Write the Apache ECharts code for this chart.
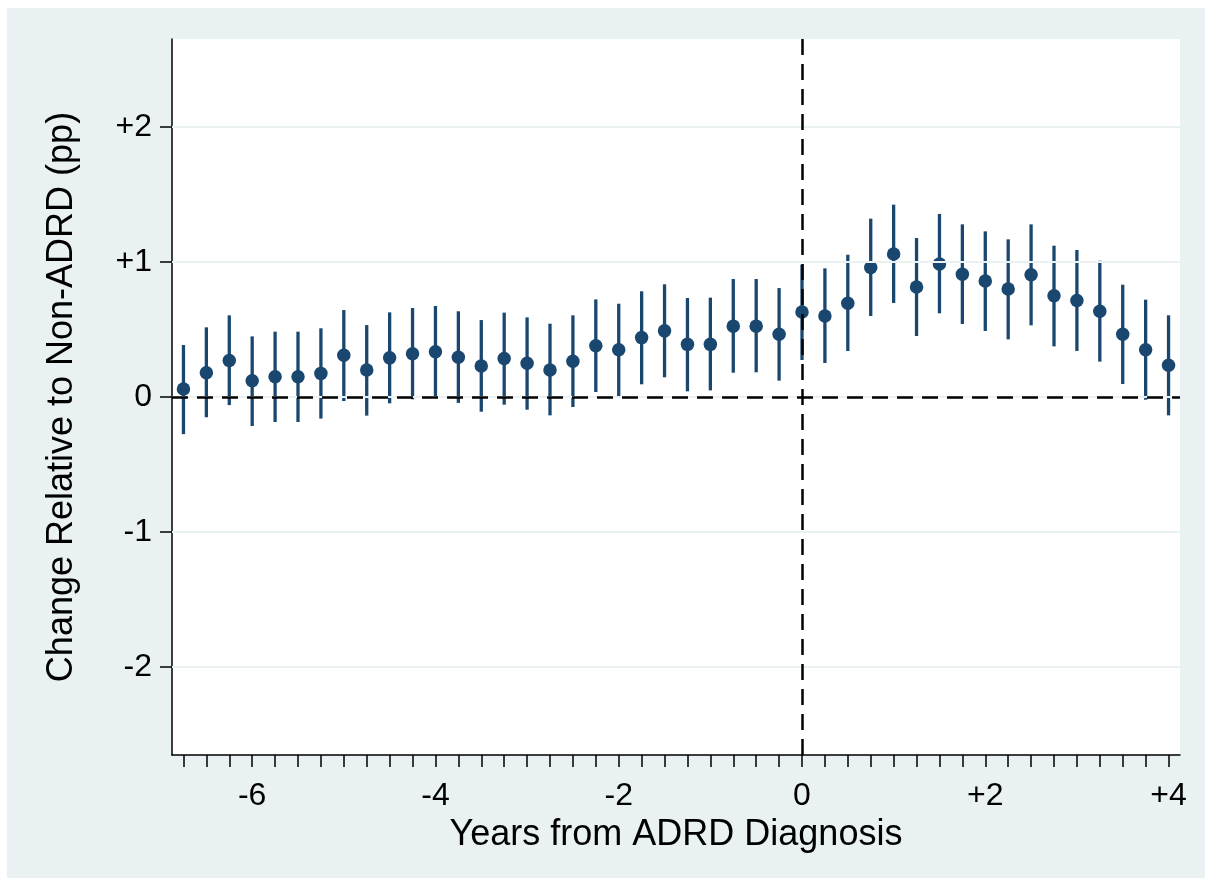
<!DOCTYPE html>
<html>
<head>
<meta charset="utf-8">
<script src="https://cdn.jsdelivr.net/npm/echarts@6/dist/echarts.min.js"></script>
<style>
  html, body { margin: 0; padding: 0; background: #ffffff; }
  #chart { width: 1205px; height: 878px; }
</style>
</head>
<body>
<div id="chart"></div>
<script>
// Event-study estimates by quarter relative to diagnosis (years)
const years = [-6.75, -6.5, -6.25, -6, -5.75, -5.5, -5.25, -5, -4.75, -4.5, -4.25, -4,
  -3.75, -3.5, -3.25, -3, -2.75, -2.5, -2.25, -2, -1.75, -1.5, -1.25, -1, -0.75, -0.5, -0.25, 0,
  0.25, 0.5, 0.75, 1, 1.25, 1.5, 1.75, 2, 2.25, 2.5, 2.75, 3, 3.25, 3.5, 3.75, 4];

// Point estimates (percentage points)
const estimate = [0.06, 0.18, 0.27, 0.12, 0.15, 0.15, 0.175, 0.31, 0.20, 0.29, 0.32, 0.335,
  0.295, 0.23, 0.285, 0.25, 0.20, 0.265, 0.38, 0.35, 0.44, 0.49, 0.39, 0.39, 0.525, 0.525, 0.465, 0.63,
  0.60, 0.695, 0.96, 1.06, 0.815, 0.985, 0.91, 0.86, 0.80, 0.905, 0.75, 0.715, 0.635, 0.465, 0.35, 0.235];

// 95% confidence interval bounds
const ciLow = [-0.275, -0.15, -0.06, -0.215, -0.185, -0.185, -0.16, -0.03, -0.138, -0.047, -0.017, -0.003,
  -0.044, -0.109, -0.057, -0.094, -0.136, -0.074, 0.037, 0.003, 0.094, 0.146, 0.042, 0.049, 0.18, 0.183, 0.121, 0.274,
  0.252, 0.341, 0.60, 0.696, 0.452, 0.62, 0.541, 0.489, 0.427, 0.531, 0.375, 0.341, 0.262, 0.096, -0.02, -0.136];
const ciHigh = [0.385, 0.516, 0.605, 0.449, 0.484, 0.484, 0.509, 0.644, 0.533, 0.627, 0.659, 0.674,
  0.635, 0.57, 0.625, 0.59, 0.543, 0.605, 0.723, 0.691, 0.783, 0.835, 0.733, 0.736, 0.874, 0.874, 0.807, 0.98,
  0.953, 1.054, 1.321, 1.425, 1.178, 1.356, 1.279, 1.227, 1.168, 1.279, 1.121, 1.089, 1.01, 0.832, 0.721, 0.605];

// Labelled tick positions
const xLabelTicks = [-6, -4, -2, 0, 2, 4];
const yLabelTicks = [-2, -1, 0, 1, 2];

const navy = '#1a476f';
const font = '"Liberation Sans", Arial, sans-serif';
const signed = v => (v > 0 ? '+' + v : String(v));

const chart = echarts.init(document.getElementById('chart'), null, { renderer: 'canvas' });

chart.setOption({
  backgroundColor: '#ffffff',
  animation: false,
  graphic: [{
    type: 'rect',
    z: -10,
    silent: true,
    shape: { x: 7, y: 8, width: 1198, height: 870 },
    style: { fill: '#eaf1f3' }
  }],
  grid: {
    left: 172, top: 39, right: 25, bottom: 123,
    show: true, backgroundColor: '#ffffff', borderWidth: 0
  },
  xAxis: {
    type: 'value',
    min: -6.875, max: 4.125,
    name: 'Years from ADRD Diagnosis',
    nameLocation: 'middle',
    nameGap: 52,
    nameTextStyle: { fontFamily: font, fontSize: 36, color: '#000' },
    axisLine: { show: true, onZero: false, lineStyle: { color: '#000', width: 1.5 } },
    axisTick: { show: true, inside: false, length: 12, customValues: years,
      lineStyle: { color: '#000', width: 1.5 } },
    axisLabel: { customValues: xLabelTicks, formatter: signed, margin: 25,
      fontFamily: font, fontSize: 32, color: '#000' },
    splitLine: { show: false }
  },
  yAxis: {
    type: 'value',
    min: -2.652, max: 2.652,
    name: 'Change Relative to Non-ADRD (pp)',
    nameLocation: 'middle',
    nameGap: 92,
    nameRotate: 90,
    nameTextStyle: { fontFamily: font, fontSize: 36, color: '#000' },
    axisLine: { show: true, onZero: false, lineStyle: { color: '#000', width: 1.5 } },
    axisTick: { show: true, inside: false, length: 12, customValues: yLabelTicks,
      lineStyle: { color: '#000', width: 1.5 } },
    axisLabel: { customValues: yLabelTicks, formatter: signed, margin: 20,
      fontFamily: font, fontSize: 32, color: '#000' },
    splitLine: { show: false }
  },
  series: [
    {
      // horizontal grid lines at labelled values
      type: 'line',
      data: [],
      silent: true,
      z: 1,
      markLine: {
        silent: true,
        symbol: ['none', 'none'],
        label: { show: false },
        lineStyle: { color: '#eaf1f3', width: 2, type: 'solid' },
        data: yLabelTicks.map(v => ({ yAxis: v }))
      }
    },
    {
      // reference lines at zero
      type: 'line',
      data: [],
      silent: true,
      z: 2,
      markLine: {
        silent: true,
        symbol: ['none', 'none'],
        label: { show: false },
        lineStyle: { color: '#000', width: 2.5, type: [16, 9] },
        data: [{ yAxis: 0 }, { xAxis: 0 }]
      }
    },
    {
      type: 'custom',
      z: 3,
      data: years.map((x, i) => [x, ciLow[i], ciHigh[i]]),
      renderItem: function (params, api) {
        const lo = api.coord([api.value(0), api.value(1)]);
        const hi = api.coord([api.value(0), api.value(2)]);
        return {
          type: 'line',
          shape: { x1: lo[0], y1: lo[1], x2: hi[0], y2: hi[1] },
          style: { stroke: navy, lineWidth: 3.3 }
        };
      }
    },
    {
      type: 'scatter',
      z: 4,
      symbol: 'circle',
      symbolSize: 13.5,
      itemStyle: { color: navy, opacity: 1 },
      data: years.map((x, i) => [x, estimate[i]])
    }
  ]
});
</script>
</body>
</html>
